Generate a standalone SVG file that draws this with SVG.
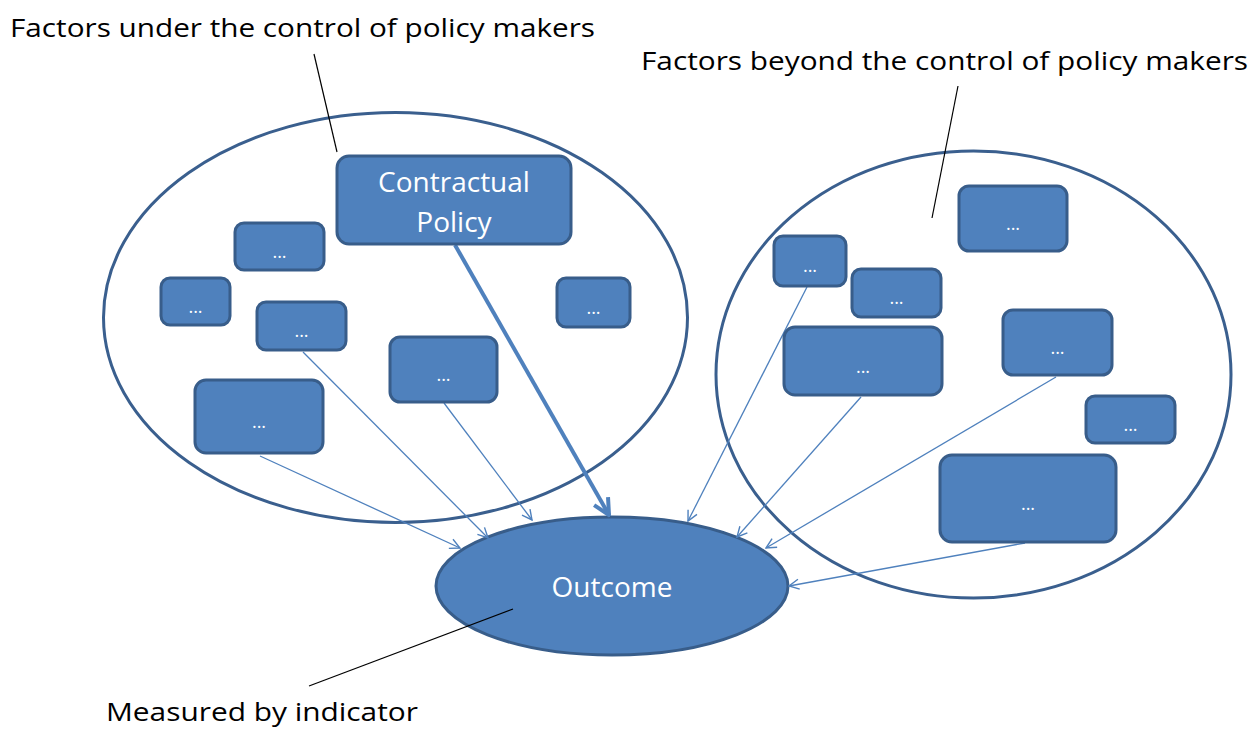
<svg xmlns="http://www.w3.org/2000/svg" width="1252" height="729" viewBox="0 0 1252 729">
<defs>
<marker id="ah" viewBox="0 0 12 12" refX="11" refY="6" markerWidth="12" markerHeight="12" markerUnits="userSpaceOnUse" orient="auto">
<path d="M1,1 L11,6 L1,11" fill="none" stroke="#4F81BD" stroke-width="1.4"/>
</marker>
<marker id="ahb" viewBox="0 0 20 20" refX="18" refY="10" markerWidth="20" markerHeight="20" markerUnits="userSpaceOnUse" orient="auto">
<path d="M2,2 L18,10 L2,18" fill="none" stroke="#4F81BD" stroke-width="4" stroke-linejoin="miter"/>
</marker>
</defs>
<style>
.grp{fill:none;stroke:#3A5F8E;stroke-width:3}
.box{fill:#4F81BD;stroke:#385D8A;stroke-width:3}
.dots{fill:#fff;font-family:"Open Sans","Liberation Sans",sans-serif;font-size:18px;text-anchor:middle}
.lbl{fill:#000;font-family:"Open Sans","Liberation Sans",sans-serif;font-size:26px}
.big{fill:#fff;font-family:"Open Sans","Liberation Sans",sans-serif;font-size:28px;text-anchor:middle}
.con{stroke:#4F81BD;stroke-width:1.3;fill:none;marker-end:url(#ah)}
.lead{stroke:#000;stroke-width:1.2}
</style>
<rect width="1252" height="729" fill="#fff"/>
<g id="left-group"><ellipse class="grp" cx="395.5" cy="317.5" rx="292" ry="205"/></g>
<g id="right-group"><ellipse class="grp" cx="973.5" cy="374.5" rx="257.5" ry="223.5"/></g>
<g id="outcome"><ellipse cx="612" cy="586" rx="176" ry="69" fill="#4F81BD" stroke="#385D8A" stroke-width="3"/><text class="big" x="612" y="597">Outcome</text></g>
<g id="connectors">
<line class="con" x1="260" y1="456" x2="460" y2="548"/>
<line class="con" x1="303" y1="352" x2="488" y2="538"/>
<line class="con" x1="444" y1="403" x2="532" y2="520"/>
<line class="con" x1="807" y1="287" x2="688" y2="521"/>
<line class="con" x1="861" y1="397" x2="737" y2="537"/>
<line class="con" x1="1056" y1="377" x2="766" y2="548"/>
<line class="con" x1="1025" y1="543" x2="789" y2="586"/>
<line x1="455" y1="245" x2="609" y2="515" stroke="#4F81BD" stroke-width="4" marker-end="url(#ahb)"/>
<line class="lead" x1="314" y1="54" x2="337" y2="152"/>
<line class="lead" x1="958" y1="86" x2="932" y2="218"/>
<line class="lead" x1="309" y1="686" x2="513" y2="609"/>
</g>
<g id="contractual-policy"><rect class="box" x="337" y="156" width="234" height="88" rx="12"/><text class="big" x="454" y="192">Contractual</text><text class="big" x="454" y="232">Policy</text></g>
<g id="l1"><rect class="box" x="235" y="223" width="89" height="47" rx="9"/><text class="dots" x="279.5" y="258">...</text></g>
<g id="l2"><rect class="box" x="161" y="278" width="69" height="47" rx="9"/><text class="dots" x="195.5" y="313">...</text></g>
<g id="l3"><rect class="box" x="257" y="302" width="89" height="48" rx="9"/><text class="dots" x="301.5" y="337">...</text></g>
<g id="l4"><rect class="box" x="390" y="337" width="107" height="65" rx="10"/><text class="dots" x="443.5" y="381">...</text></g>
<g id="l5"><rect class="box" x="195" y="380" width="128" height="73" rx="11"/><text class="dots" x="259" y="428">...</text></g>
<g id="l6"><rect class="box" x="557" y="278" width="73" height="49" rx="9"/><text class="dots" x="593.5" y="314">...</text></g>
<g id="r1"><rect class="box" x="959" y="186" width="108" height="65" rx="10"/><text class="dots" x="1013" y="230">...</text></g>
<g id="r2"><rect class="box" x="774" y="236" width="72" height="50" rx="9"/><text class="dots" x="810" y="272">...</text></g>
<g id="r3"><rect class="box" x="852" y="269" width="89" height="48" rx="9"/><text class="dots" x="896.5" y="304">...</text></g>
<g id="r4"><rect class="box" x="784" y="327" width="158" height="68" rx="11"/><text class="dots" x="863" y="373">...</text></g>
<g id="r5"><rect class="box" x="1003" y="310" width="109" height="65" rx="10"/><text class="dots" x="1057.5" y="354">...</text></g>
<g id="r6"><rect class="box" x="1086" y="396" width="89" height="47" rx="9"/><text class="dots" x="1130.5" y="431">...</text></g>
<g id="r7"><rect class="box" x="940" y="455" width="176" height="87" rx="12"/><text class="dots" x="1028" y="510">...</text></g>
<g id="labels">
<text class="lbl" x="10" y="37" textLength="585" lengthAdjust="spacingAndGlyphs">Factors under the control of policy makers</text>
<text class="lbl" x="641" y="70" textLength="607" lengthAdjust="spacingAndGlyphs">Factors beyond the control of policy makers</text>
<text class="lbl" x="106" y="721" textLength="312" lengthAdjust="spacingAndGlyphs">Measured by indicator</text>
</g>
</svg>
